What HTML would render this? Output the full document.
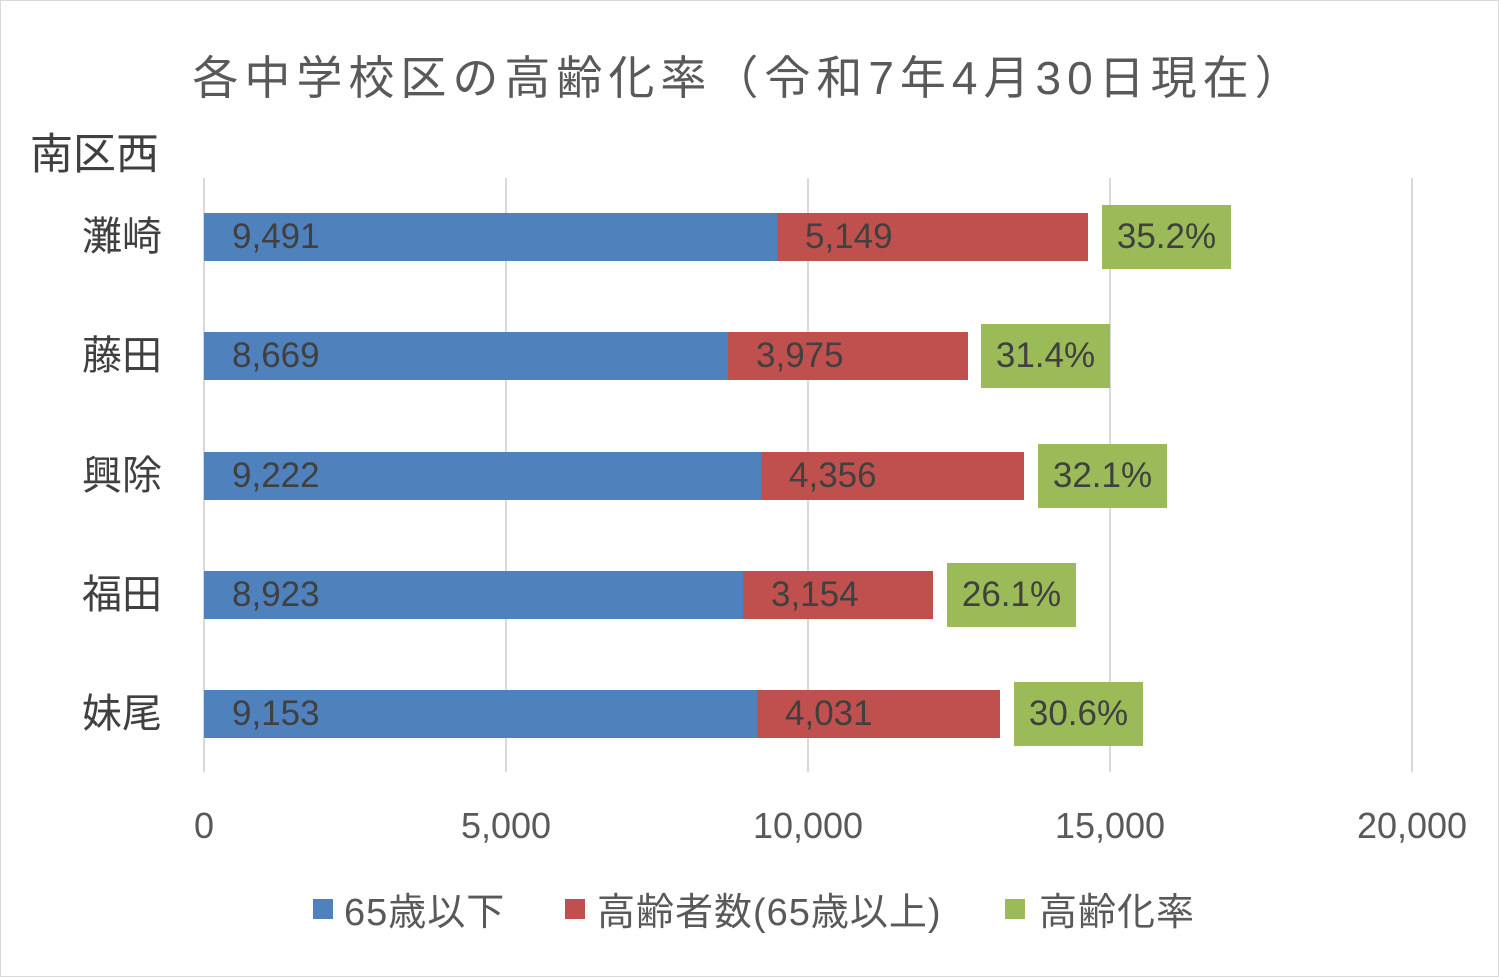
<!DOCTYPE html>
<html><head><meta charset="utf-8"><style>
body{margin:0;background:#fff;}
#c{position:relative;width:1499px;height:977px;overflow:hidden;font-family:"Liberation Sans","Noto Sans CJK JP",sans-serif;color:#595959;}
.abs{position:absolute;white-space:nowrap;}
.g{position:absolute;top:178px;height:594px;width:2px;background:#d9d9d9;}
.bar{position:absolute;height:48px;}
.v{position:absolute;font-size:35px;color:#404040;line-height:48px;}
.cat{position:absolute;right:1337px;font-size:40px;color:#404040;line-height:48px;}
.tk{position:absolute;top:805px;font-size:36px;width:160px;text-align:center;color:#595959;}
.box{position:absolute;width:129px;height:64px;background:#9BBB59;font-size:35px;color:#404040;line-height:64px;text-align:center;}
.lg{position:absolute;top:881px;font-size:38px;letter-spacing:1px;white-space:nowrap;}
</style></head><body><div id="c">
<div class="abs" style="left:0;top:0;width:1497px;height:975px;border:1px solid #d9d9d9;"></div>
<div class="abs" style="left:0;width:1499px;top:42px;text-align:center;font-size:46px;letter-spacing:6px;">各中学校区の高齢化率（令和7年4月30日現在）</div>
<div class="abs" style="left:30px;top:120px;font-size:43px;color:#404040;">南区西</div>
<div class="g" style="left:203px"></div><div class="g" style="left:505px"></div><div class="g" style="left:807px"></div><div class="g" style="left:1109px"></div><div class="g" style="left:1411px"></div>

<div class="cat" style="top:213px">灘崎</div>
<div class="bar" style="left:204px;top:213px;width:573px;background:#4F81BD"></div>
<div class="bar" style="left:777px;top:213px;width:311px;background:#C0504D"></div>
<div class="v" style="left:232px;top:213px">9,491</div><div class="v" style="left:805px;top:213px">5,149</div>
<div class="box" style="left:1102px;top:205px">35.2%</div>

<div class="cat" style="top:332px">藤田</div>
<div class="bar" style="left:204px;top:332px;width:524px;background:#4F81BD"></div>
<div class="bar" style="left:728px;top:332px;width:240px;background:#C0504D"></div>
<div class="v" style="left:232px;top:332px">8,669</div><div class="v" style="left:756px;top:332px">3,975</div>
<div class="box" style="left:981px;top:324px">31.4%</div>

<div class="cat" style="top:452px">興除</div>
<div class="bar" style="left:204px;top:452px;width:557px;background:#4F81BD"></div>
<div class="bar" style="left:761px;top:452px;width:263px;background:#C0504D"></div>
<div class="v" style="left:232px;top:452px">9,222</div><div class="v" style="left:789px;top:452px">4,356</div>
<div class="box" style="left:1038px;top:444px">32.1%</div>

<div class="cat" style="top:571px">福田</div>
<div class="bar" style="left:204px;top:571px;width:539px;background:#4F81BD"></div>
<div class="bar" style="left:743px;top:571px;width:190px;background:#C0504D"></div>
<div class="v" style="left:232px;top:571px">8,923</div><div class="v" style="left:771px;top:571px">3,154</div>
<div class="box" style="left:947px;top:563px">26.1%</div>

<div class="cat" style="top:690px">妹尾</div>
<div class="bar" style="left:204px;top:690px;width:553px;background:#4F81BD"></div>
<div class="bar" style="left:757px;top:690px;width:243px;background:#C0504D"></div>
<div class="v" style="left:232px;top:690px">9,153</div><div class="v" style="left:785px;top:690px">4,031</div>
<div class="box" style="left:1014px;top:682px">30.6%</div>

<div class="tk" style="left:124px">0</div><div class="tk" style="left:426px">5,000</div><div class="tk" style="left:728px">10,000</div><div class="tk" style="left:1030px">15,000</div><div class="tk" style="left:1332px">20,000</div>

<div class="abs" style="left:313px;top:899px;width:20px;height:20px;background:#4F81BD"></div>
<div class="lg" style="left:344px;">65歳以下</div>
<div class="abs" style="left:565px;top:899px;width:20px;height:20px;background:#C0504D"></div>
<div class="lg" style="left:597px;">高齢者数(65歳以上)</div>
<div class="abs" style="left:1005px;top:899px;width:20px;height:20px;background:#9BBB59"></div>
<div class="lg" style="left:1039px;">高齢化率</div>
</div></body></html>
